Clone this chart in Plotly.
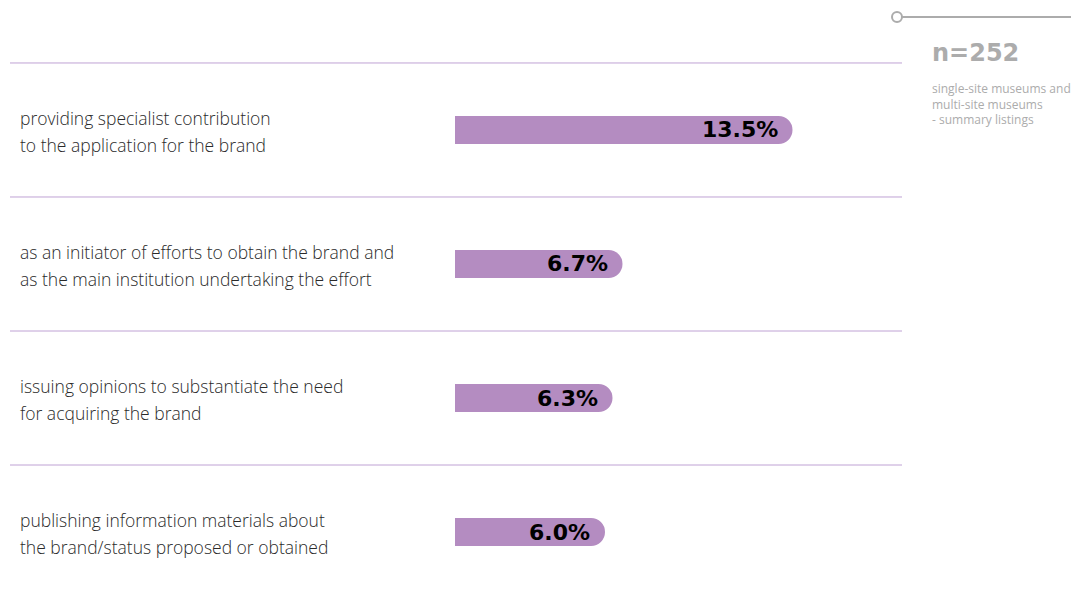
import plotly.graph_objects as go

categories = [
    "providing specialist contribution<br>to the application for the brand",
    "as an initiator of efforts to obtain the brand and<br>as the main institution undertaking the effort",
    "issuing opinions to substantiate the need<br>for acquiring the brand",
    "publishing information materials about<br>the brand/status proposed or obtained",
]
values = [13.5, 6.7, 6.3, 6.0]
value_labels = ["13.5%", "6.7%", "6.3%", "6.0%"]
sample_title = "n=252"
sample_note = ["single-site museums and", "multi-site museums", "- summary listings"]

W, H = 1071, 597
BAR = "#b48cc1"
SEP = "#bfa2d4"
GREY = "#acacac"

fig = go.Figure()
fig.add_trace(go.Bar(
    x=values, y=categories, orientation="h",
    width=0.21, marker=dict(color=BAR, cornerradius=14, line=dict(width=0)),
    hoverinfo="skip",
))

annotations = []
shapes = []
for i, (cat, v, lab) in enumerate(zip(categories, values, value_labels)):
    lines = cat.split("<br>")
    shifts = [12, -15]
    for ln, s in zip(lines, shifts):
        annotations.append(dict(
            x=18 / W, xref="paper", y=i, yref="y", yshift=s,
            text=ln, showarrow=False, xanchor="left", yanchor="middle",
            font=dict(family="Open Sans", size=17.5, color="#2a2a2a", weight=300),
        ))
    annotations.append(dict(
        x=v, xref="x", y=i, yref="y", xshift=-13, yshift=0,
        text=lab, showarrow=False, xanchor="right", yanchor="middle",
        font=dict(family="DejaVu Sans", size=22, color="#000000", weight="bold"),
    ))
    shapes.append(dict(
        type="line", xref="paper", yref="y",
        x0=10 / W, x1=902 / W, y0=i - 0.5, y1=i - 0.5,
        line=dict(color=SEP, width=1),
    ))

# header decoration
shapes.append(dict(type="line", xref="paper", yref="paper",
                   x0=902 / W, x1=1.0, y0=1 - 17 / H, y1=1 - 17 / H,
                   line=dict(color=GREY, width=2)))
shapes.append(dict(type="circle", xref="paper", yref="paper",
                   x0=(897 - 5) / W, x1=(897 + 5) / W,
                   y0=1 - (17 + 5) / H, y1=1 - (17 - 5) / H,
                   line=dict(color=GREY, width=2), fillcolor="white"))

annotations.append(dict(
    x=930 / W, xref="paper", y=1 - 53 / H, yref="paper",
    text=sample_title, showarrow=False, xanchor="left", yanchor="middle",
    font=dict(family="DejaVu Sans", size=24, color=GREY, weight="bold"),
))
for k, t in enumerate(sample_note):
    annotations.append(dict(
        x=930 / W, xref="paper", y=1 - (89 + 15.5 * k) / H, yref="paper",
        text=t, showarrow=False, xanchor="left", yanchor="middle",
        font=dict(family="Open Sans", size=12, color=GREY),
    ))

fig.update_layout(
    width=W, height=H,
    margin=dict(l=0, r=0, t=0, b=0),
    paper_bgcolor="white", plot_bgcolor="white",
    showlegend=False,
    xaxis=dict(range=[-455 / 25, (W - 455) / 25], visible=False, fixedrange=True),
    yaxis=dict(type="category", categoryorder="array", categoryarray=categories,
               range=[3.485, -0.970], visible=False, fixedrange=True),
    shapes=shapes, annotations=annotations,
)

fig.write_html("out.html", config={"displayModeBar": False},
               post_script="document.body.style.margin='0';document.body.style.overflow='hidden';")
